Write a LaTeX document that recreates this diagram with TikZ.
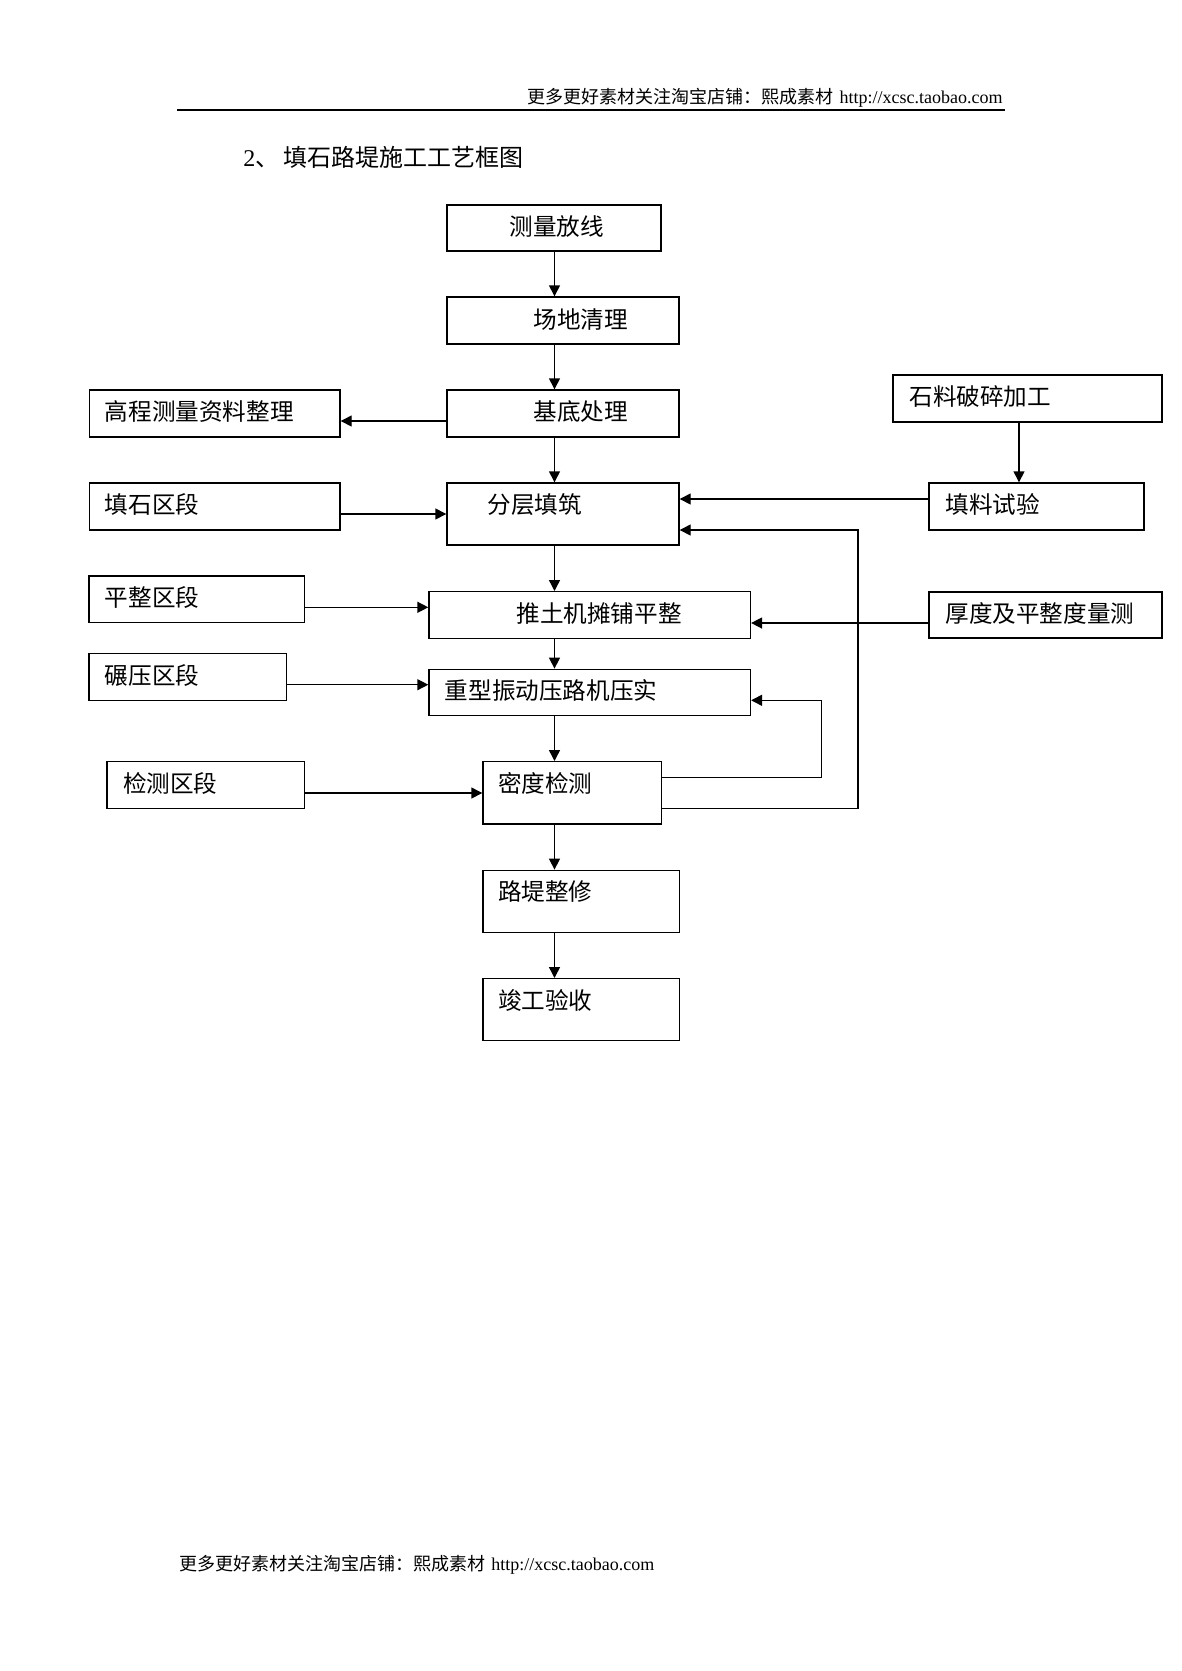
\documentclass[tikz,border=0pt]{standalone}
\usepackage{fontspec}
\setmainfont{Liberation Serif}
\newfontfamily\cjk{Noto Sans CJK SC}
\usetikzlibrary{arrows.meta,fit}
\begin{document}
\begin{tikzpicture}[x=0.5pt,y=-0.5pt,
  box/.style={draw, line width=0.7pt, inner sep=0pt, rectangle},
  txt/.style={inner sep=0pt, anchor=west, font=\cjk\fontsize{11.8}{12}\selectfont, text height=0.86em, text depth=0.14em},
  small/.style={inner sep=0pt, font=\fontsize{9}{10}\selectfont, text height=0.88em, text depth=0.12em},
  arr/.style={line width=0.7pt, -{Triangle[length=5.5pt,width=5.5pt]}},
  ln/.style={line width=0.7pt}
]
\useasboundingbox[fill=white] (0,0) rectangle (1182,1671);

% header and footer
\node[small, anchor=east] (hdr) at (1003,96) {{\cjk 更多更好素材关注淘宝店铺：熙成素材}\hspace{3pt}http://xcsc.taobao.com};
\coordinate (hl1) at (177,110);
\coordinate (hl2) at (1005,110);
\draw[line width=1pt] (hl1) -- (hl2);
\node[small, anchor=west] (ftr) at (179,1562.5) {{\cjk 更多更好素材关注淘宝店铺：熙成素材}\hspace{3pt}http://xcsc.taobao.com};

% title
\node[txt, font=\fontsize{12}{13}\selectfont] (title) at (243,159) {2{\cjk 、}\hspace{2pt}{\cjk 填石路堤施工工艺框图}};

% boxes
\node[box, fit={(447,205) (661,251)}] (m1) {};
\node[txt] (tm1) at (509,228) {测量放线};
\node[box, fit={(447,297) (679,344)}] (m2) {};
\node[txt] (tm2) at (533,321) {场地清理};
\node[box, fit={(447,390) (679,437)}] (m3) {};
\node[txt] (tm3) at (533,413.5) {基底处理};
\node[box, fit={(89.5,390) (340,437)}] (g) {};
\node[txt] (tg) at (104.5,413.5) {高程测量资料整理};
\node[box, fit={(89.5,483) (340,530)}] (ts) {};
\node[txt] (tts) at (104.5,506) {填石区段};
\node[box, fit={(447,483) (679,545)}] (m4) {};
\node[txt] (tm4) at (487,506) {分层填筑};
\node[box, fit={(893,375) (1162,422)}] (sl) {};
\node[txt] (tsl) at (909,398) {石料破碎加工};
\node[box, fit={(929,483) (1144,530)}] (tl) {};
\node[txt] (ttl) at (945,506) {填料试验};
\node[box, fit={(89,576) (304.5,622.7)}] (pz) {};
\node[txt] (tpz) at (104.5,599) {平整区段};
\node[box, fit={(429,591.7) (750.4,638.3)}] (m5) {};
\node[txt] (tm5) at (516,615) {推土机摊铺平整};
\node[box, fit={(929,592) (1162,638)}] (hd) {};
\node[txt] (thd) at (945,615) {厚度及平整度量测};
\node[box, fit={(89,653.7) (286.6,700.3)}] (ny) {};
\node[txt] (tny) at (104.5,677) {碾压区段};
\node[box, fit={(429,669.3) (750.4,715.3)}] (m6) {};
\node[txt] (tm6) at (444.5,692) {重型振动压路机压实};
\node[box, fit={(107,761.7) (304.5,808.3)}] (jc) {};
\node[txt] (tjc) at (122.6,785.5) {检测区段};
\node[box, fit={(483,761.7) (661.6,824)}] (m7) {};
\node[txt] (tm7) at (497.7,785.5) {密度检测};
\node[box, fit={(483,870.3) (679.3,932.3)}] (m8) {};
\node[txt] (tm8) at (497.7,893) {路堤整修};
\node[box, fit={(483,978.7) (679.3,1040.3)}] (m9) {};
\node[txt] (tm9) at (497.7,1002) {竣工验收};

% main vertical flow
\draw[arr] (m1.south -| 554.5,0) -- (m2.north -| 554.5,0);
\draw[arr] (m2.south -| 554.5,0) -- (m3.north -| 554.5,0);
\draw[arr] (m3.south -| 554.5,0) -- (m4.north -| 554.5,0);
\draw[arr] (m4.south -| 554.5,0) -- (m5.north -| 554.5,0);
\draw[arr] (m5.south -| 554.5,0) -- (m6.north -| 554.5,0);
\draw[arr] (m6.south -| 554.5,0) -- (m7.north -| 554.5,0);
\draw[arr] (m7.south -| 554.5,0) -- (m8.north -| 554.5,0);
\draw[arr] (m8.south -| 554.5,0) -- (m9.north -| 554.5,0);

% side connectors
\draw[arr] (m3.west |- 0,421) -- (g.east |- 0,421);
\draw[arr] (ts.east |- 0,514) -- (m4.west |- 0,514);
\draw[arr] (sl.south -| 1019,0) -- (tl.north -| 1019,0);
\draw[arr] (tl.west |- 0,499) -- (m4.east |- 0,499);
\draw[arr] (pz.east |- 0,607.3) -- (m5.west |- 0,607.3);
\draw[arr] (hd.west |- 0,623) -- (m5.east |- 0,623);
\draw[arr] (ny.east |- 0,684.7) -- (m6.west |- 0,684.7);
\draw[arr] (jc.east |- 0,793) -- (m7.west |- 0,793);

% feedback loops
\draw[arr] (m7.east |- 0,777.7) -- (821.3,777.7) -- (821.3,700.3) -- (m6.east |- 0,700.3);
\draw[arr] (m7.east |- 0,808.3) -- (858,808.3) -- (858,530) -- (m4.east |- 0,530);
\end{tikzpicture}
\end{document}
